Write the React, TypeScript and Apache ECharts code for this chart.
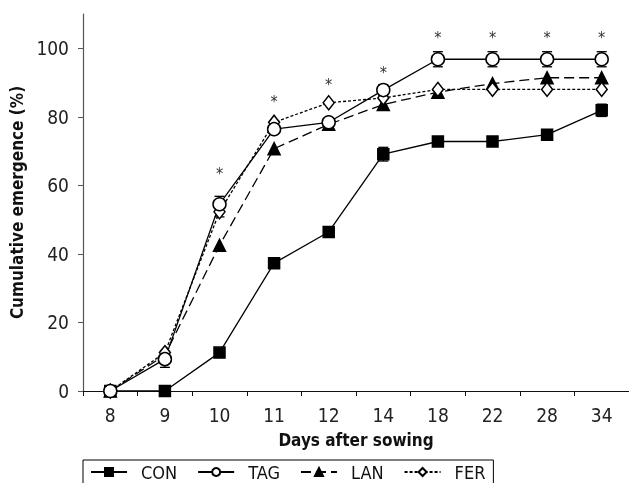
import React, { useEffect, useRef } from "react";
import * as echarts from "echarts";

const days = ["8", "9", "10", "11", "12", "14", "18", "22", "28", "34"];
const conValues = [0, 0, 11.2, 37.3, 46.4, 69.1, 72.8, 72.8, 74.8, 81.9];
const tagValues = [0, 9.3, 54.5, 76.4, 78.4, 87.8, 96.8, 96.8, 96.8, 96.8];
const lanValues = [0, 10.5, 42.5, 70.7, 77.8, 83.6, 87.2, 89.7, 91.4, 91.4];
const ferValues = [0, 11.2, 52.3, 78.4, 84.1, 85.5, 88, 88, 88, 88];
const conErr = [0, 0, 0, 0, 0, 2, 0, 0, 0, 1.8];
const tagErr = [0, 2.4, 2.3, 0, 0, 1.6, 2.2, 2.2, 2.2, 2.2];
const ferErr = [0, 0, 1.5, 0, 0, 0, 0, 0, 0, 0];
const sigMarkY: (number | null)[] = [null, null, 63.5, 84.5, 89.5, 93, 103, 103, 103, 103];
const yTicks = [0, 20, 40, 60, 80, 100];

const FONT = "'DejaVu Sans Condensed', 'Liberation Sans Narrow', sans-serif";

function errData(values: number[], errs: number[]) {
  const out: number[][] = [];
  values.forEach((v, i) => {
    if (errs[i] > 0) out.push([i, v, errs[i]]);
  });
  return out;
}

function errRender(params: any, api: any) {
  const i = api.value(0);
  const v = api.value(1);
  const e = api.value(2);
  const top = api.coord([i, v + e]);
  const bot = api.coord([i, v - e]);
  const hw = 5;
  const style = { stroke: "#000", lineWidth: 1.3 };
  return {
    type: "group",
    children: [
      { type: "line", shape: { x1: top[0], y1: top[1], x2: bot[0], y2: bot[1] }, style },
      { type: "line", shape: { x1: top[0] - hw, y1: top[1], x2: top[0] + hw, y2: top[1] }, style },
      { type: "line", shape: { x1: bot[0] - hw, y1: bot[1], x2: bot[0] + hw, y2: bot[1] }, style },
    ],
  };
}

export default function App() {
  const ref = useRef<HTMLDivElement>(null);
  useEffect(() => {
    if (!ref.current) return;
    const chart = echarts.init(ref.current, null, { renderer: "svg" });
    const lineBase = (name: string, data: number[], symbol: string, symbolSize: any, fill: string, type: any, width: number) => ({
      name,
      type: "line",
      data,
      symbol,
      symbolSize,
      showAllSymbol: true,
      itemStyle: { color: fill, borderColor: "#000", borderWidth: 1.5 },
      lineStyle: { color: "#000", width, type },
      emphasis: { disabled: true },
      z: 3,
    });
    const sigData: number[][] = [];
    sigMarkY.forEach((v, i) => {
      if (v !== null) sigData.push([i, v]);
    });
    chart.setOption({
      animation: false,
      grid: { left: 83, right: 0, top: 14, bottom: 92, containLabel: false },
      legend: {
        data: ["CON", "TAG", "LAN", "FER"],
        left: 83,
        top: 460,
        orient: "horizontal",
        borderColor: "#000",
        borderWidth: 1,
        padding: [3, 8, 12, 7],
        itemWidth: 36,
        itemHeight: 10,
        itemGap: 20,
        selectedMode: false,
        textStyle: { fontFamily: FONT, fontSize: 18, color: "#111", padding: [0, 0, 0, 9] },
      },
      xAxis: {
        type: "category",
        data: days,
        boundaryGap: true,
        name: "Days after sowing",
        nameLocation: "middle",
        nameGap: 40,
        nameTextStyle: { fontFamily: FONT, fontSize: 17, fontWeight: "bold", color: "#111" },
        axisLine: { show: true, lineStyle: { color: "#111", width: 1.2 } },
        axisTick: { show: true, length: 5, lineStyle: { color: "#111" } },
        axisLabel: { fontFamily: FONT, fontSize: 19, color: "#222", margin: 14 },
        splitLine: { show: false },
      },
      yAxis: {
        type: "value",
        min: 0,
        max: 110,
        interval: 20,
        name: "Cumulative emergence (%)",
        nameLocation: "middle",
        nameGap: 57,
        nameTextStyle: { fontFamily: FONT, fontSize: 17, fontWeight: "bold", color: "#111" },
        axisLine: { show: true, lineStyle: { color: "#555", width: 1.2 } },
        axisTick: { show: true, length: 5, customValues: yTicks, lineStyle: { color: "#555" } },
        axisLabel: { fontFamily: FONT, fontSize: 19, color: "#222", margin: 14, customValues: yTicks },
        splitLine: { show: false },
      },
      series: [
        lineBase("CON", conValues, "rect", 11, "#000", "solid", 1.3),
        lineBase("LAN", lanValues, "triangle", 12, "#000", [10, 5], 1.3),
        lineBase("FER", ferValues, "diamond", [11, 14], "#fff", [3, 2], 1.3),
        lineBase("TAG", tagValues, "circle", 13, "#fff", "solid", 1.3),
        { type: "custom", name: "errCON", data: errData(conValues, conErr), renderItem: errRender, z: 2, silent: true },
        { type: "custom", name: "errTAG", data: errData(tagValues, tagErr), renderItem: errRender, z: 2, silent: true },
        { type: "custom", name: "errFER", data: errData(ferValues, ferErr), renderItem: errRender, z: 2, silent: true },
        {
          type: "custom",
          name: "sig",
          data: sigData,
          silent: true,
          z: 4,
          renderItem: (params: any, api: any) => {
            const p = api.coord([api.value(0), api.value(1)]);
            return {
              type: "text",
              x: p[0],
              y: p[1],
              style: {
                text: "*",
                fontFamily: FONT,
                fontSize: 16,
                fill: "#333",
                align: "center",
                verticalAlign: "middle",
              },
            };
          },
        },
      ],
    });
    return () => chart.dispose();
  }, []);
  return <div ref={ref} style={{ position: "fixed", left: 0, top: 0, width: 629, height: 483 }} />;
}
